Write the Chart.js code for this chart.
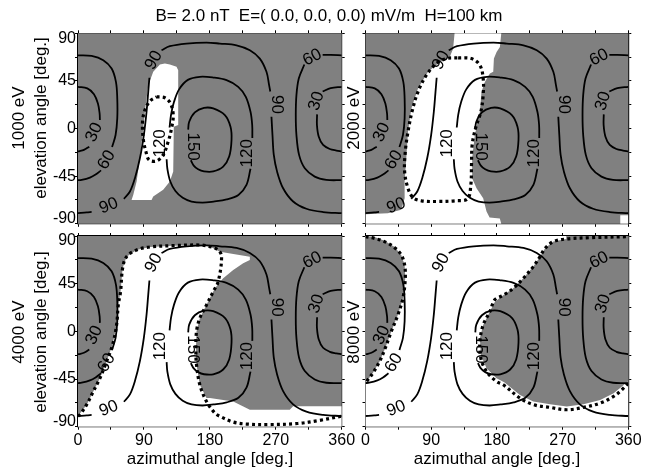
<!DOCTYPE html>
<html><head><meta charset="utf-8">
<script src="https://cdn.jsdelivr.net/npm/chart.js@4.4.1/dist/chart.umd.min.js"></script>
<style>
html,body{margin:0;padding:0;background:#fff;}
#wrap{position:relative;width:647px;height:473px;overflow:hidden;font-family:"Liberation Sans",Arial,sans-serif;color:#000;}
canvas{position:absolute;left:0;top:0;}
.t{position:absolute;white-space:pre;font-size:17px;line-height:1;transform:translate(-50%,-50%);}
.r{transform:translate(-50%,-50%) rotate(-90deg);}
</style></head><body>
<div id="wrap">
<canvas id="c1" width="647" height="473"></canvas>
<canvas id="c2" width="647" height="473"></canvas>
<canvas id="c3" width="647" height="473"></canvas>
<canvas id="c4" width="647" height="473"></canvas>
<div class="t" style="left:329px;top:15px">B= 2.0 nT  E=( 0.0, 0.0, 0.0) mV/m  H=100 km</div>
<div class="t r" style="left:18px;top:118px">1000 eV</div>
<div class="t r" style="left:40px;top:118px">elevation angle [deg.]</div>
<div class="t r" style="left:353px;top:118px">2000 eV</div>
<div class="t r" style="left:18px;top:332px">4000 eV</div>
<div class="t r" style="left:40px;top:332px">elevation angle [deg.]</div>
<div class="t r" style="left:353px;top:332px">8000 eV</div>
<div class="t" style="left:210px;top:458px">azimuthal angle [deg.]</div>
<div class="t" style="left:497px;top:458px">azimuthal angle [deg.]</div>
</div>
<script>
// ---------- data (azimuth deg, elevation deg) ----------
const xTicks = [0, 90, 180, 270, 360];
const yTicks = [-90, -45, 0, 45, 90];
const energies = ['1000 eV', '2000 eV', '4000 eV', '8000 eV'];

// pitch-angle contours (same in all panels)
const c30a = [[0,39.4],[12.7,37.9],[21.8,32.5],[27.2,23.7],[29.5,14.3],[29.9,8]];
const c30b = [[15.4,-17.1],[8.1,-20.2],[1.3,-21.5],[0,-21.6]];
const c30c = [[334,35],[345,38.2],[360,39.4]];
const c30d = [[326.4,13.4],[326.2,3.3],[328.7,-7.7],[334.6,-15.5],[343.7,-19.3],[352.8,-20.8],[360,-21.6]];
const c60a = [[0,69.2],[18.6,68.6],[34.5,64.6],[45.9,56.7],[51.8,44.1],[53.6,28.4],[53.6,9.6],[51.3,-6.1],[46.5,-17.5]];
const c60b = [[31.5,-39.5],[24,-43.5],[16.3,-46.3],[5,-48.5],[0,-48.8]];
const c60c = [[334,69.6],[345,69.6],[360,69.2]];
const c60d = [[309,60.5],[301.4,47.3],[298.2,31.6],[297.3,12.7],[298.2,-6.1],[301.8,-24.9],[309.6,-37.5],[323.2,-45.4],[339.1,-48.5],[360,-48.8]];
const c90a = [[0,-79.9],[11.8,-79.3],[18.6,-78.8]];
const c90b = [[62.7,-66.4],[70.9,-59.5],[77.7,-46.9],[84.5,-28.1],[89.9,-6.1],[93.6,15.9],[95.9,34.7],[97.5,48]];
const c90c = [[114,74],[125.4,77.8],[148.1,80.3],[175.4,81.2],[193.7,80.3],[216.4,78.7],[234.6,74],[248.2,66.1],[257.3,53.6],[260.9,41],[262.5,35]];
const c90d = [[264.1,11.2],[265.5,-6.1],[267.3,-24.9],[271.8,-40.7],[280,-56.4],[293.7,-68.9],[311.8,-75.8],[334.6,-78.9],[360,-79.9]];
const c120a = [[121,-29],[122,-38],[126,-50],[133,-59],[143,-65.5],[155,-69],[170,-70],[185,-69],[203,-67],[219,-62.7],[230,-53.2],[235.5,-38]];
const c120b = [[238,-9],[237.8,3.3],[235.5,15.9],[229.1,30],[218.7,39.4],[202.8,45.7],[184.6,48.2],[166.4,48.9],[150,46],[138,37],[131,25],[127,13],[125,1]];
const c150a = [[154,-30],[158,-35],[164,-38.5],[172,-40.5],[184.6,-40.5],[198.2,-36],[206.4,-26.5],[209.6,-10.8],[208.2,1.7],[200.5,12.7],[184.6,19],[172,19.5],[159.5,15.2],[151.8,6.4],[150.4,-1]];
const contours = [c30a,c30b,c30c,c30d,c60a,c60b,c60c,c60d,c90a,c90b,c90c,c90d,c120a,c120b,c150a];

// contour labels
const labelText  = ['30','30','60','60','90','90','90','120','120','150'];
const labelAz    = [22.2,325.5,39,320,42,103.6,270.9,112,231,157.2];
const labelEl    = [-3.6,25.9,-29.7,67.1,-73,64.6,22.8,-14,-23.4,-17.1];
const labelAngle = [-65,-72,-60,-28,-22,-62,90,-90,-90,90];

// panel 1 (1000 eV): white region and dotted boundary
const white1 = [[118.6,61.4],[125.4,60.5],[134.5,58.3],[136.8,55.1],[136.8,3.3],[130.8,1.7],[130,-40.7],[125.4,-50.1],[116.3,-57.9],[102.7,-64.2],[100.4,-67.4],[73.1,-67.4],[75.4,-62.7],[80,-50.1],[84.5,-28.1],[88.1,-6.1],[91.8,19],[95.9,41],[102.7,53.6],[111.8,60.5],[118.6,61.4]];
const dots1 = [[107.2,30],[118.6,29.1],[126.3,23.7],[130,12.7],[127.7,0.2],[123.1,-12.4],[116.3,-24.9],[107.2,-30.6],[97.2,-29.7],[92.7,-21.8],[89,-9.3],[88.1,6.4],[91.3,17.4],[98.1,25.9],[107.2,30]];

// panel 2 (2000 eV)
const white2 = [[122,90],[186,90],[184.1,77.1],[179.6,72.4],[175.9,66.1],[175,53.6],[170.4,52],[163.5,44.1],[158.9,34.7],[156.7,15.9],[149.8,-6.1],[146.1,-28.1],[146.1,-46.9],[152.1,-56.4],[161.2,-65.8],[165.8,-78.4],[170,-84],[184,-85],[186,-90],[0,-90],[0,-80.9],[30.7,-80],[49,-76.8],[53.6,-65.8],[53.6,-50.1],[55.9,-28.1],[58.2,-3],[62.8,19],[71.9,37.9],[85.7,53.6],[101.7,63],[115.4,67.7],[120,75.5],[122,90]];
const white2b = [[349,-82],[360,-82],[360,-90],[349,-90],[349,-82]];
const dots2 = [[126.9,66.8],[145.2,66.1],[156.7,59.9],[161.2,47.3],[161.2,31.6],[158,15.9],[150.7,0.2],[146.1,-15.5],[145.2,-34.4],[144.3,-53.2],[139.7,-66.4],[122.3,-68.3],[99.4,-68.9],[76.5,-68.3],[65.1,-65.2],[58.2,-56.4],[53.6,-40.7],[54.5,-21.8],[58.2,-3],[63.7,15.9],[71.9,34.7],[83.4,50.4],[97.1,61.4],[110.9,66.1],[126.9,66.8]];

// panel 3 (4000 eV)
const white3 = [[0,-80],[11.8,-69.2],[20.9,-56.7],[30,-44.1],[39,-28.4],[47.2,-12.7],[52.7,6.1],[55,25],[58.1,37.5],[60.9,59.5],[66.3,70.5],[80,76.8],[98.1,79.6],[129.9,80.9],[166.3,81.5],[180,80],[193.7,75.2],[234.6,70.5],[234.6,67.4],[225.5,64.2],[211.9,58],[198.2,50.1],[186.9,40.7],[175.5,25],[166.3,12.4],[161.8,-0.1],[160.9,-19],[161.8,-31.6],[166.3,-50.4],[175.4,-63],[180,-63],[211.9,-66.1],[234.6,-74],[289.1,-74],[293.7,-70.8],[360,-70.8],[360,-90],[0,-90],[0,-80]];
const dots3 = [[0,-80],[2.7,-78.7],[11.8,-69.2],[20.9,-56.7],[30,-44.1],[39,-28.4],[47.2,-12.7],[52.7,6.1],[55,25],[58.1,37.5],[60.9,59.5],[66.3,70.5],[80,76.8],[98.1,79.6],[129.9,80.9],[166.3,81.5],[180,80],[191.4,76.8],[196,70.5],[191.4,47],[184.6,37.5],[175.5,25],[166.3,12.4],[161.8,-0.1],[160.9,-19],[161.8,-31.6],[166.3,-50.4],[175.4,-66.1],[186.8,-77.1],[193.7,-80.2],[211.9,-85.6],[230,-87.5],[260,-88],[300,-87],[330,-84],[360,-80]];

// panel 4 (8000 eV): gray regions on white
const gray4a = [[0,90],[12.4,89],[26.1,85.5],[39.9,79.5],[49,72.1],[53.6,62.7],[54.5,50.1],[51.3,31.3],[44.4,15.6],[35.3,-0.1],[27,-15.9],[19.3,-28.4],[10.1,-39.4],[3.2,-45.7],[0,-48],[0,90]];
const gray4b = [[275,90],[360,90],[360,-47],[351.3,-52],[339.9,-58.4],[321.5,-64.7],[298.6,-68.8],[275.7,-71],[252.8,-68.8],[229.9,-66.2],[211.6,-60],[190,-48],[179.5,-44.3],[165.8,-34.8],[158,-22.3],[156.7,-6.6],[161.2,6.1],[170.4,18.7],[177.3,28],[188.7,34],[202.5,40.7],[216.2,50.1],[229.9,61.1],[239.1,70.5],[246,78.4],[257.4,84.7],[275,87.2],[275,90]];
const dots4a = [[0,89.4],[12.4,87.8],[26.1,84.7],[39.9,79],[49,72.1],[53.6,62.7],[54.5,50.1],[51.3,31.3],[44.4,15.6],[35.3,-0.1],[27,-15.9],[19.3,-28.4],[10.1,-39.4],[3.2,-45.7],[0,-49]];
const dots4b = [[360,-49],[351.3,-55.1],[339.9,-61.4],[321.5,-67.7],[298.6,-71.8],[275.7,-74],[252.8,-71.8],[229.9,-69.2],[211.6,-63],[188.7,-50.4],[179.5,-47.3],[165.8,-37.8],[158,-25.3],[156.7,-9.6],[161.2,6.1],[170.4,18.7],[177.3,30],[188.7,34],[202.5,40.7],[216.2,50.1],[229.9,61.1],[239.1,70.5],[246,78.4],[257.4,84.7],[275.7,87.2],[307.8,88.4],[360,89.4]];

// ---------- styling ----------
const GRAY = '#808080';
const FONT = '"Liberation Sans", Arial, sans-serif';
const W = 647, H = 473;
const LEFT_W = 45, BOTTOM_H = 30;

const toXY = arr => arr.map(p => ({x: p[0], y: p[1]}));

const bgPlugin = {
  id: 'panelBg',
  beforeDatasetsDraw(chart, args, opts) {
    const a = chart.chartArea, ctx = chart.ctx;
    ctx.save(); ctx.fillStyle = opts.color; ctx.fillRect(a.left, a.top, a.right - a.left, a.bottom - a.top); ctx.restore();
  }
};
const labelPlugin = {
  id: 'contourLabels',
  afterDatasetsDraw(chart) {
    const {ctx, chartArea: a} = chart;
    const xs = chart.scales.x, ys = chart.scales.y;
    ctx.save();
    ctx.beginPath(); ctx.rect(a.left, a.top, a.right - a.left, a.bottom - a.top); ctx.clip();
    ctx.font = '17px ' + FONT; ctx.fillStyle = '#000';
    ctx.textAlign = 'center'; ctx.textBaseline = 'middle';
    labelText.forEach((t, i) => {
      ctx.save();
      ctx.translate(xs.getPixelForValue(labelAz[i]), ys.getPixelForValue(labelEl[i]));
      ctx.rotate(labelAngle[i] * Math.PI / 180);
      ctx.fillText(t, 0, 0);
      ctx.restore();
    });
    ctx.restore();
  }
};

function yLabel(v) {
  if (!yTicks.includes(v)) return '';
  if (v === yTicks[yTicks.length - 1]) return ['', String(v)];
  if (v === yTicks[0]) return [String(v), ''];
  return String(v);
}

function axis(pos, min, max, step, showLabels, size) {
  const horiz = pos === 'top' || pos === 'bottom';
  return {
    type: 'linear', position: pos, axis: horiz ? 'x' : 'y', min, max,
    ticks: {
      stepSize: step, autoSkip: false, maxRotation: 0, minRotation: 0,
      display: showLabels, color: '#000', padding: horiz ? 1 : -1,
      font: {size: 16, family: FONT, lineHeight: horiz ? 1.2 : 0.6},
      callback: v => horiz ? (xTicks.includes(v) ? String(v) : '') : yLabel(v)
    },
    grid: {drawOnChartArea: false, drawTicks: true, tickLength: 3, color: '#000', lineWidth: 1},
    border: {display: true, color: '#000', width: 1.2},
    afterFit: s => { if (horiz) s.height = size; else s.width = size; }
  };
}

function makePanel(id, area, bg, fills, fillColor, dots, showX, showY) {
  const datasets = [];
  fills.forEach(f => datasets.push({data: toXY(f), fill: 'shape', backgroundColor: fillColor,
    borderColor: 'rgba(0,0,0,0)', borderWidth: 1, pointRadius: 0, tension: 0, order: 10}));
  contours.forEach(c => datasets.push({data: toXY(c), fill: false, borderColor: '#000',
    borderWidth: 1.8, pointRadius: 0, tension: 0.35, order: 2}));
  dots.forEach(d => datasets.push({data: toXY(d), fill: false, borderColor: '#000',
    borderWidth: 3.2, borderDash: [3, 3.2], pointRadius: 0, tension: 0.35, order: 1}));
  const lw = showY ? LEFT_W : 0, bh = showX ? BOTTOM_H : 0;
  return new Chart(document.getElementById(id), {
    type: 'line',
    data: {datasets},
    options: {
      responsive: false, animation: false, events: [],
      layout: {padding: {left: area[0] - lw, top: area[1], right: W - area[2], bottom: H - area[3] - bh}},
      plugins: {legend: {display: false}, tooltip: {enabled: false}, title: {display: false}, panelBg: {color: bg}},
      scales: {
        x: axis('bottom', 0, 360, 45, showX, bh),
        x2: axis('top', 0, 360, 45, false, 0),
        y: axis('left', -90, 90, 22.5, showY, lw),
        y2: axis('right', -90, 90, 22.5, false, 0)
      }
    },
    plugins: [bgPlugin, labelPlugin]
  });
}

makePanel('c1', [78, 33.3, 341.7, 223.8], GRAY, [white1], '#fff', [dots1], false, true);
makePanel('c2', [365.5, 33.3, 628.3, 223.8], GRAY, [white2, white2b], '#fff', [dots2], false, false);
makePanel('c3', [78, 236, 341.7, 426.7], GRAY, [white3], '#fff', [dots3], true, true);
makePanel('c4', [365.5, 236, 628.3, 426.7], '#fff', [gray4a, gray4b], GRAY, [dots4a, dots4b], true, false);
</script>
</body></html>
